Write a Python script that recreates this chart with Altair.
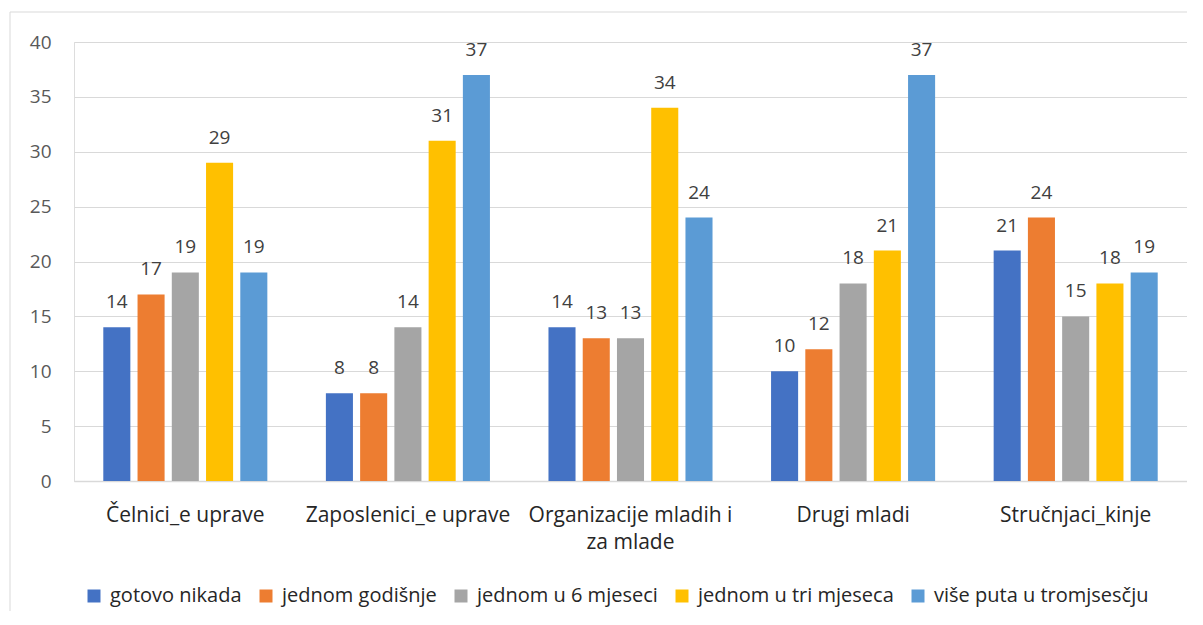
import altair as alt
import pandas as pd

categories = ["Čelnici_e uprave", "Zaposlenici_e uprave", "Organizacije mladih i za mlade",
              "Drugi mladi", "Stručnjaci_kinje"]
series = ["gotovo nikada", "jednom godišnje", "jednom u 6 mjeseci",
          "jednom u tri mjeseca", "više puta u tromjsesčju"]
gotovo_nikada = [14, 8, 14, 10, 21]
jednom_godisnje = [17, 8, 13, 12, 24]
jednom_6_mjeseci = [19, 14, 13, 18, 15]
jednom_tri_mjeseca = [29, 31, 34, 21, 18]
vise_puta = [19, 37, 24, 37, 19]
colors = ["#4472C4", "#ED7D31", "#A5A5A5", "#FFC000", "#5B9BD5"]
y_ticks = [0, 5, 10, 15, 20, 25, 30, 35, 40]

values = [gotovo_nikada, jednom_godisnje, jednom_6_mjeseci, jednom_tri_mjeseca, vise_puta]
rows = []
for s, vals in zip(series, values):
    for c, v in zip(categories, vals):
        rows.append({"kategorija": c, "serija": s, "vrijednost": v})
df = pd.DataFrame(rows)

FONT = "Open Sans"
W, H = 1113, 439

x_enc = alt.X("kategorija:N", sort=categories, title=None,
              scale=alt.Scale(paddingInner=0.263, paddingOuter=0.1316),
              axis=alt.Axis(labelAngle=0, domainColor="#D9D9D9", domainWidth=1.5, ticks=False,
                            labelPadding=23, labelFontSize=21, labelColor="#262626",
                            labelFont=FONT, labelLineHeight=27, labelLimit=400,
                            labelExpr="datum.label == 'Organizacije mladih i za mlade' ? ['Organizacije mladih i', 'za mlade'] : datum.label"))
xo_enc = alt.XOffset("serija:N", sort=series,
                     scale=alt.Scale(paddingInner=0.21, paddingOuter=0))
y_enc = alt.Y("vrijednost:Q", title=None,
              scale=alt.Scale(domain=[0, 40], nice=False),
              axis=alt.Axis(values=y_ticks, domain=False, ticks=False, gridColor="#D9D9D9",
                            gridWidth=1, labelPadding=23, labelFontSize=19, labelColor="#595959",
                            labelFont=FONT))

base = alt.Chart(df)
bars = base.mark_bar().encode(
    x=x_enc, xOffset=xo_enc, y=y_enc,
    color=alt.Color("serija:N", sort=series,
                    scale=alt.Scale(domain=series, range=colors),
                    legend=alt.Legend(title=None, orient="none", direction="horizontal",
                                      legendX=10, legendY=544, columns=5,
                                      symbolType="square", symbolSize=169, symbolStrokeWidth=0,
                                      labelFont=FONT, labelFontSize=20, labelColor="#262626",
                                      labelOffset=6, columnPadding=14, labelLimit=400)),
)
labels = base.mark_text(baseline="alphabetic", dy=-19, fontSize=19, font=FONT, color="#404040").encode(
    x=x_enc, xOffset=xo_enc, y=y_enc, text="vrijednost:Q",
)

border = alt.Chart(pd.DataFrame({"a": [0]})).mark_rect(filled=False, stroke="#D9D9D9", strokeWidth=1).encode(
    x=alt.value(-64), x2=alt.value(1300), y=alt.value(-30), y2=alt.value(800)
)

chart = alt.layer(border, bars, labels).properties(
    width=W, height=H,
    autosize=alt.AutoSizeParams(type="none"),
    padding={"left": 66, "top": 34, "right": 0, "bottom": 130},
).configure_view(stroke=None).configure(background="white")

chart.save("out.html", embed_options={"renderer": "svg", "actions": False})
